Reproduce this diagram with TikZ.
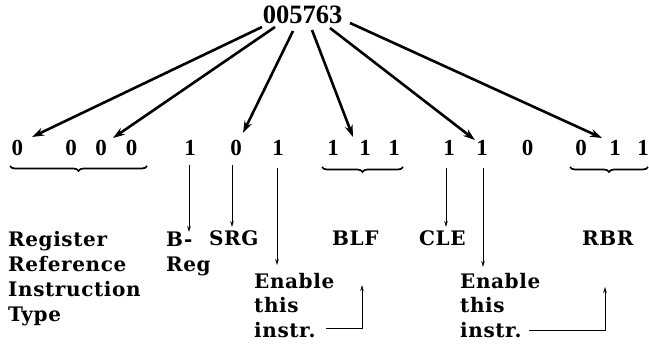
\documentclass[tikz,border=0pt]{standalone}
\usepackage{fontspec}
\setmainfont{DejaVu Serif}[BoldFont={DejaVu Serif Bold}]
\newfontfamily\labfont{DejaVu Serif Bold}[LetterSpace=3]
\newfontfamily\digfont{Liberation Serif Bold}
\usetikzlibrary{arrows.meta,decorations.pathreplacing}
\begin{document}
\begin{tikzpicture}[x=1pt,y=-1pt,
  bigarrow/.style={line width=2.6pt,-{Stealth[length=12pt,width=8pt]}},
  thinarrow/.style={line width=1pt,-{Stealth[length=6pt,width=3.5pt]}},
  bitbrace/.style={decorate,decoration={brace,amplitude=5pt,mirror},line width=1.7pt},
  bit/.style={font=\digfont\fontsize{23}{23}\selectfont,inner sep=0pt,anchor=base},
  lab/.style={font=\labfont\fontsize{20}{25}\selectfont,inner sep=0pt,anchor=base west},
  mlab/.style={font=\labfont\fontsize{20}{25}\selectfont,inner sep=0pt,anchor=north west,align=left}]
\useasboundingbox (0,0) rectangle (649,344);
\node[font=\digfont\fontsize{26.5}{26.5}\selectfont,inner sep=0pt,anchor=base] (top) at (302.5,24) {005763};
% bits
\foreach \n/\x/\v in {1/17.5/0,2/71/0,3/101/0,4/131.5/0,5/190/1,6/236/0,7/278/1,8/333/1,9/365/1,10/394/1,11/449/1,12/482/1,13/527.5/0,14/581/0,15/615/1,16/643/1}
  \node[bit] (b\n) at (\x,156) {\v};
% braces
\draw[bitbrace] (10,166) -- (147,166);
\draw[bitbrace] (322,167) -- (403,167);
\draw[bitbrace] (570,167) -- (648,167);
% top arrows
\coordinate (s1) at (262,27); \coordinate (e1) at (32,137);
\coordinate (s2) at (275,27); \coordinate (e2) at (113,138);
\coordinate (s3) at (293,31); \coordinate (e3) at (243,133);
\coordinate (s4) at (312,30); \coordinate (e4) at (353,137);
\coordinate (s5) at (330,28); \coordinate (e5) at (475,140);
\coordinate (s6) at (350,23); \coordinate (e6) at (602,138);
\foreach \i in {1,...,6} \draw[bigarrow] (s\i) -- (e\i);
% labels
\node[mlab] (rrit) at (8,231) {Register\\Reference\\Instruction\\Type};
\node[mlab] (breg) at (166,231.5) {B-\\Reg};
\node[lab] (srg) at (209,246) {SRG};
\node[lab] (blf) at (332,246) {BLF};
\node[lab] (cle) at (419,246) {CLE};
\node[lab] (rbr) at (582,246) {RBR};
\node[mlab,font=\labfont\fontsize{20}{24.5}\selectfont] (en1) at (254,273) {Enable\\this\\instr.};
\node[mlab,font=\labfont\fontsize{20}{24.5}\selectfont] (en2) at (460,273) {Enable\\this\\instr.};
% vertical arrows
\coordinate (t5) at (189,232); \coordinate (t6) at (232,227); \coordinate (t7) at (277,265);
\coordinate (t11) at (446,227); \coordinate (t12) at (483,267);
\draw[thinarrow] (t5 |- b5.south) ++(0,9) -- (t5);
\draw[thinarrow] (t6 |- b6.south) ++(0,9) -- (t6);
\draw[thinarrow] (t7 |- b7.south) ++(0,12) -- (t7);
\draw[thinarrow] (t11 |- b11.south) ++(0,12) -- (t11);
\draw[thinarrow] (t12 |- b12.south) ++(0,12) -- (t12);
% L arrows
\coordinate (c1) at (326,329); \coordinate (d1) at (362,285);
\coordinate (c2) at (529,331); \coordinate (d2) at (605,287);
\draw[thinarrow] (c1) -| (d1);
\draw[thinarrow] (c2) -| (d2);
\end{tikzpicture}
\end{document}
